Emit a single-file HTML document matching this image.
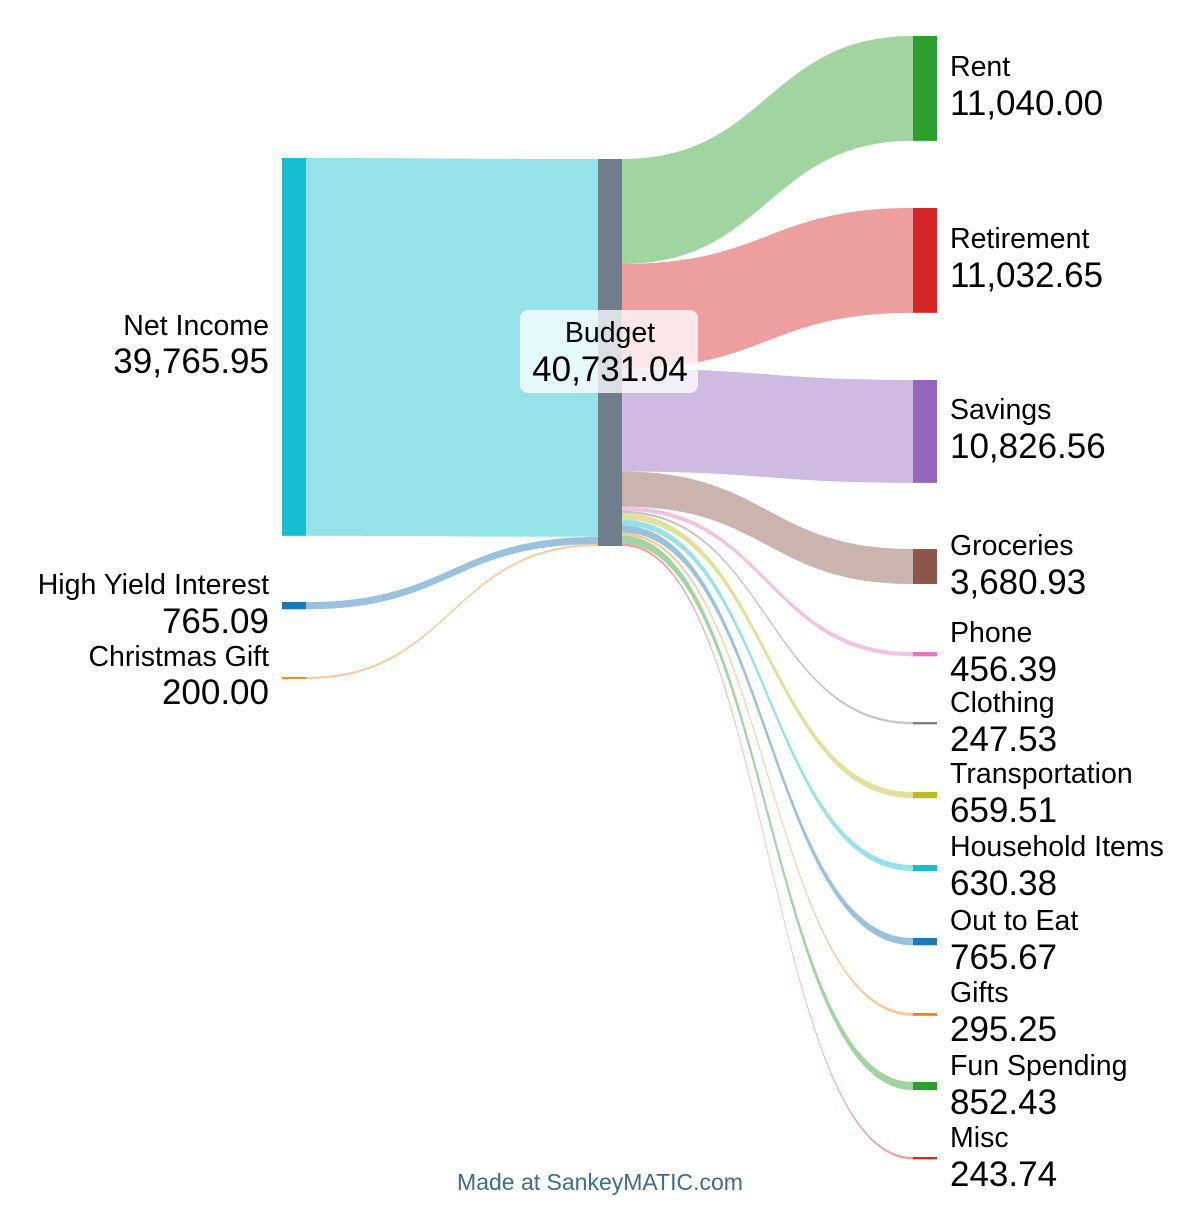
<!DOCTYPE html>
<html><head><meta charset="utf-8"><style>
html,body{margin:0;padding:0;background:#fff;}
svg text{font-family:"Liberation Sans",Arial,sans-serif;}
</style></head><body>
<svg id="s" width="1200" height="1200" viewBox="0 0 1200 1200" xmlns="http://www.w3.org/2000/svg"></svg>
<script>
const s=document.getElementById('s');
const NS='http://www.w3.org/2000/svg';
function el(t,a,txt){const e=document.createElementNS(NS,t);for(const k in a)e.setAttribute(k,a[k]);if(txt!==undefined)e.textContent=txt;s.appendChild(e);return e;}
function band(x0,y0t,y0b,x1,y1t,y1b,c,op){const xm=(x0+x1)/2;
el('path',{d:`M${x0},${y0t} C${xm},${y0t} ${xm},${y1t} ${x1},${y1t} L${x1},${y1b} C${xm},${y1b} ${xm},${y0b} ${x0},${y0b} Z`,fill:c,'fill-opacity':op});}
const k=387/40731.04;
const left=[["Net Income","39,765.95",39765.95,158,"#17becf"],["High Yield Interest","765.09",765.09,602,"#1f77b4"],["Christmas Gift","200.00",200,677,"#ff7f0e"]];
let by=159;
left.forEach(l=>{const h=l[2]*k;band(306,l[3],l[3]+h,598,by,by+h,l[4],0.45);by+=h;});
const right=[["Rent","11,040.00",11040,36,"#2ca02c"],["Retirement","11,032.65",11032.65,208,"#d62728"],["Savings","10,826.56",10826.56,380,"#9467bd"],["Groceries","3,680.93",3680.93,549,"#8c564b"],["Phone","456.39",456.39,652,"#e377c2"],["Clothing","247.53",247.53,722,"#7f7f7f"],["Transportation","659.51",659.51,792,"#bcbd22"],["Household Items","630.38",630.38,865,"#17becf"],["Out to Eat","765.67",765.67,938,"#1f77b4"],["Gifts","295.25",295.25,1013,"#ff7f0e"],["Fun Spending","852.43",852.43,1082,"#2ca02c"],["Misc","243.74",243.74,1157,"#d62728"]];
let ry=159;
right.forEach(r=>{const h=r[2]*k;band(622,ry,ry+h,913,r[3],r[3]+h,r[4],0.45);ry+=h;});
left.forEach(l=>{const h=Math.max(l[2]*k,1.5);el('rect',{x:282,y:l[3],width:24,height:h,fill:l[4]});});
el('rect',{x:598,y:159,width:24,height:387,fill:'#6f7d8c'});
right.forEach(r=>{const h=Math.max(r[2]*k,1.5);el('rect',{x:913,y:r[3],width:24,height:h,fill:r[4]});});
const NF=28.5, VF=35;
const ll=[["Net Income","39,765.95",335,373],["High Yield Interest","765.09",594,633],["Christmas Gift","200.00",666,704]];
ll.forEach(l=>{el('text',{x:269,y:l[2],'text-anchor':'end','font-size':NF,fill:'#000'},l[0]);el('text',{x:269,y:l[3],'text-anchor':'end','font-size':VF,fill:'#000'},l[1]);});
const rl=[76,248,419,555,642,712,783,856,930,1002,1075,1147];
right.forEach((r,i)=>{el('text',{x:950,y:rl[i],'font-size':NF,fill:'#000'},r[0]);el('text',{x:950,y:rl[i]+39,'font-size':VF,fill:'#000'},r[1]);});
el('rect',{x:520,y:310,width:178,height:83,rx:8,fill:'#fff','fill-opacity':0.75});
el('text',{x:610,y:342,'text-anchor':'middle','font-size':NF,fill:'#000'},"Budget");
el('text',{x:610,y:381,'text-anchor':'middle','font-size':VF,fill:'#000'},"40,731.04");
el('text',{x:600,y:1190,'text-anchor':'middle','font-size':23,fill:'#3d6c8c'},"Made at SankeyMATIC.com");
</script>
</body></html>
